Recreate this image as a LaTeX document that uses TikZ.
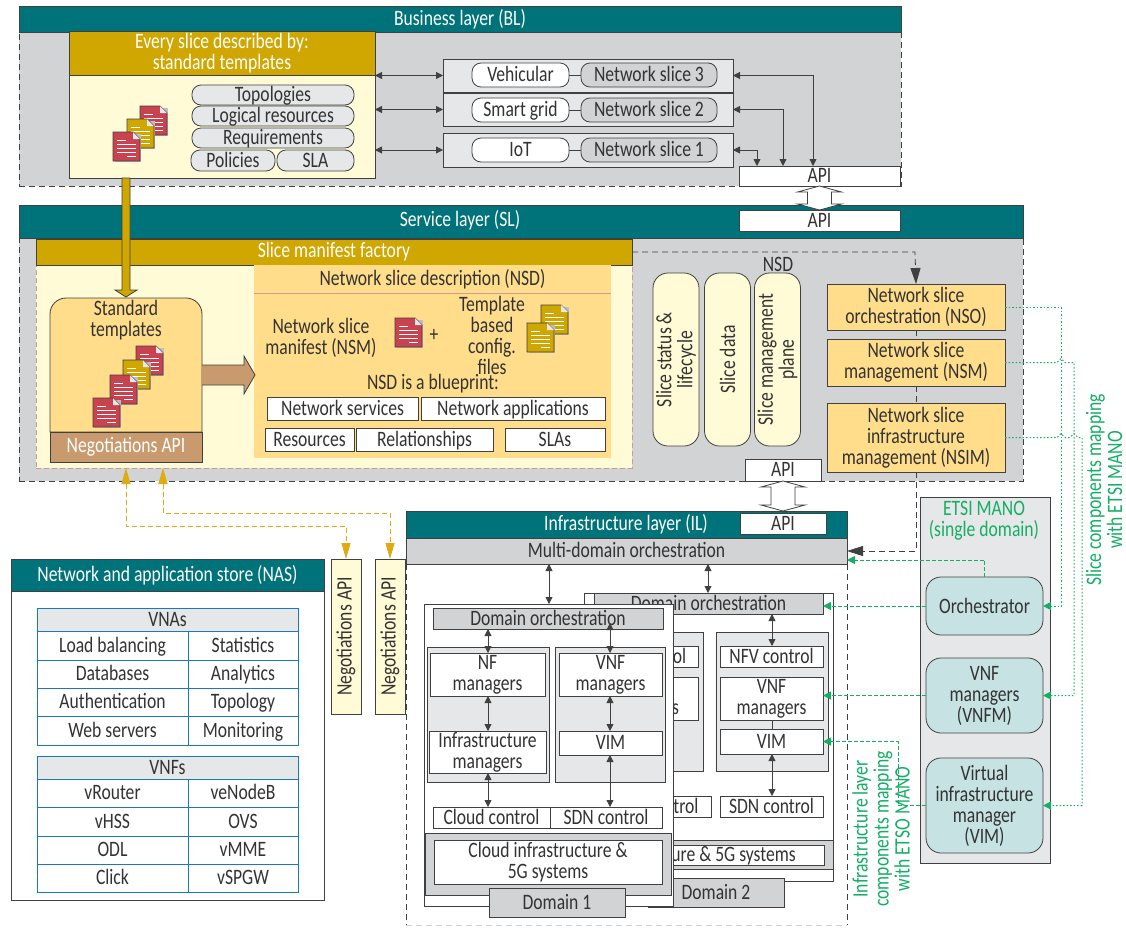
\documentclass[tikz,border=0pt]{standalone}
\usepackage{fontspec}
\setmainfont[FakeStretch=0.8]{Carlito}
\usetikzlibrary{arrows.meta,calc}
\definecolor{teal}{HTML}{00727A}
\definecolor{lgray}{HTML}{D1D3D4}
\definecolor{vgray}{HTML}{E6E7E8}
\definecolor{gold}{HTML}{D0A600}
\definecolor{ltyel}{HTML}{FFFBD6}
\definecolor{orng}{HTML}{FFDD8B}
\definecolor{tann}{HTML}{C99A6E}
\definecolor{aqua}{HTML}{C6E2E2}
\definecolor{grn}{HTML}{14AE66}
\definecolor{dgold}{HTML}{E0AB10}
\definecolor{tblue}{HTML}{1878C0}
\definecolor{pinkd}{HTML}{D09A9A}
\definecolor{ink}{HTML}{333333}
\definecolor{edge}{HTML}{404040}
\definecolor{docred}{HTML}{C8434F}
\tikzset{
  every node/.style={font=\fontsize{22}{21}\selectfont,text=ink,inner sep=0pt,outer sep=0pt,align=center},
  one/.style={text height=16pt,text depth=3pt},
  boxs/.style={draw=edge,line width=0.8pt},
  head/.style={boxs,fill=teal,text=white},
  goldh/.style={boxs,fill=gold,text=white},
  wbox/.style={boxs,fill=white},
  gbox/.style={boxs,fill=lgray},
  pbox/.style={boxs,fill=vgray},
  obox/.style={boxs,fill=orng},
  pill/.style={boxs,one,rounded corners=9pt,fill=vgray},
  wpill/.style={boxs,one,rounded corners=9pt,fill=white},
  gpill/.style={boxs,one,rounded corners=9pt,fill=lgray},
  vpill/.style={boxs,rounded corners=15pt,fill=ltyel,rotate=90,minimum width=173pt,minimum height=46pt},
  mbox/.style={boxs,rounded corners=15pt,fill=aqua},
  cell/.style={one,draw=tblue,line width=0.9pt,fill=white},
  hcell/.style={one,draw=tblue,line width=0.9pt,fill=vgray},
  dbl/.style={edge,line width=0.8pt,{Triangle[length=7pt,width=7pt]}-{Triangle[length=7pt,width=7pt]}},
  bigdash/.style={draw=edge,line width=0.8pt,dash pattern=on 6pt off 4pt},
  bigtip/.style={-{Triangle[length=16pt,width=10pt]}},
  gdash/.style={draw=grn,line width=1pt,dash pattern=on 4pt off 2pt,-{Triangle[length=8pt,width=8pt]}},
  gdot/.style={draw=grn,line width=1pt,dash pattern=on 1.5pt off 2pt,-{Triangle[length=8pt,width=8pt]}},
  golda/.style={draw=dgold,line width=0.9pt,dash pattern=on 5pt off 3pt,{Triangle[length=16pt,width=9pt]}-{Triangle[length=16pt,width=9pt]}},
  outl/.style={draw=edge,line width=0.8pt,fill=white},
  rotl/.style={rotate=90,text=grn},
}
\newcommand{\bx}[7][]{\node[#1,minimum width={(#5-#3)*1pt},minimum height={(#6-#4)*1pt},anchor=north west] (#2) at (#3,#4) {#7};}
\newcommand{\docicon}[3]{%
  \begin{scope}[shift={(#1,#2)}]
    \fill[black!25] (1.5,1.5) rectangle (28,30);
    \draw[draw=edge,line width=0.8pt,fill=#3] (0,0) -- (20,0) -- (27,7) -- (27,29) -- (0,29) -- cycle;
    \fill[vgray] (20,0) -- (27,7) -- (20,7) -- cycle;
    \draw[white,line width=1pt] (4,8) -- (13,8) (4,12) -- (23,12) (4,16) -- (23,16) (4,20) -- (23,20) (14,24) -- (23,24);
  \end{scope}}
\begin{document}
\begin{tikzpicture}[x=1pt,y=-1pt]
\useasboundingbox (0,0) rectangle (1126,927);
\fill[white] (0,0) rectangle (1126,927);
% Business layer
\bx[fill=lgray,bigdash]{blb}{19}{32}{901}{186}{}
\bx[head]{bl}{19}{6}{901}{32}{Business layer (BL)}
\bx[boxs,fill=ltyel]{every}{69}{75}{375}{178}{}
\bx[goldh]{everyh}{69}{31}{375}{75}{Every slice described by:\\standard templates}
\bx[pill]{p1}{192}{85}{354}{105}{Topologies}
\bx[pill]{p2}{192}{106}{354}{126}{Logical resources}
\bx[pill]{p3}{192}{128}{354}{148}{Requirements}
\bx[pill]{p4}{191}{150}{275}{171}{Policies}
\bx[pill]{p5}{277}{150}{354}{171}{SLA}
\docicon{140}{106}{docred}
\docicon{127}{119}{gold}
\docicon{113}{132}{docred}
\bx[pbox]{s3}{443}{59}{733}{92}{}
\bx[pbox]{s2}{443}{93}{733}{126}{}
\bx[pbox]{s1}{443}{133}{733}{167}{}
\bx[wpill]{veh}{472}{63}{569}{87}{Vehicular}
\bx[gpill]{ns3}{581}{63}{717}{87}{Network slice 3}
\bx[wpill]{sg}{472}{98}{569}{122}{Smart grid}
\bx[gpill]{ns2}{581}{98}{717}{122}{Network slice 2}
\bx[wpill]{iot}{472}{138}{569}{162}{IoT}
\bx[gpill]{ns1}{581}{138}{717}{162}{Network slice 1}
\draw[boxs] (veh) -- (ns3);
\draw[boxs] (sg) -- (ns2);
\draw[boxs] (iot) -- (ns1);
\draw[dbl] (s3.west -| every.east) -- (s3.west);
\draw[dbl] (s2.west -| every.east) -- (s2.west);
\draw[dbl] (s1.west -| every.east) -- (s1.west);
\bx[wbox,one]{apit}{739}{166}{900}{186}{API}
\coordinate (xa) at (813,0);
\coordinate (xb) at (783,0);
\coordinate (xc) at (757,0);
\draw[dbl] (s3.east) -- (s3.east -| xa) -- (xa |- apit.north);
\draw[dbl] (s2.east) -- (s2.east -| xb) -- (xb |- apit.north);
\draw[dbl] (s1.east) -- (s1.east -| xc) -- (xc |- apit.north);
% Service layer
\bx[fill=lgray,bigdash]{slb}{19}{238}{1023}{481}{}
\bx[head]{sl}{19}{205}{1023}{238}{}
\node[text=white] at (460,220) (sltxt) {Service layer (SL)};
\bx[wbox,one]{apis}{739}{210}{900}{231}{API}
\draw[outl] (apit.south) -- ++(22,6) -- ++(-10,0) -- ++(0,12) -- ++(10,0) -- ++(-22,6) -- ++(-22,-6) -- ++(10,0) -- ++(0,-12) -- ++(-10,0) -- cycle;
% Slice manifest factory
\bx[fill=ltyel,draw=pinkd,line width=0.9pt,dash pattern=on 5pt off 3pt]{smfb}{36}{265}{632}{468}{}
\bx[goldh]{smf}{36}{239}{632}{265}{Slice manifest factory}
\node[anchor=south] at (778,272) (nsdl) {NSD};
\node[vpill] (v1) at (676,359.5) {Slice status \&\\lifecycle};
\node[vpill] (v2) at (727.5,359.5) {Slice data};
\node[vpill] (v3) at (777.5,359.5) {Slice management\\plane};
\bx[fill=orng]{nsdp}{254}{265}{611}{458}{}
\bx{nsdt}{254}{265}{611}{293}{Network slice description (NSD)}
\draw[draw=pinkd,line width=0.9pt] (nsdt.south west) -- (nsdt.south east);
\node at (321,338) (nsmt) {Network slice\\manifest (NSM)};
\docicon{395}{318}{docred}
\node at (434,335) (plus) {+};
\node at (492,335) (tpl) {Template\\based\\config.\\files};
\docicon{541}{305}{gold}
\docicon{527}{323}{gold}
\node at (433,384) (blue) {NSD is a blueprint:};
\bx[wbox,one]{b1}{267}{397}{418}{420}{Network services}
\bx[wbox,one]{b2}{421}{397}{605}{420}{Network applications}
\bx[wbox,one]{b3}{265}{428}{354}{451}{Resources}
\bx[wbox,one]{b4}{356}{428}{493}{451}{Relationships}
\bx[wbox,one]{b5}{505}{428}{605}{451}{SLAs}
\draw[boxs,fill=orng] (50,432) [rounded corners=16pt] -- (50,298) -- (202,298) [sharp corners] -- (202,432) -- cycle;
\node at (126,320) (stt) {Standard\\templates};
\docicon{136}{346}{docred}
\docicon{123}{360}{gold}
\docicon{110}{375}{docred}
\docicon{93}{398}{docred}
\bx[boxs,fill=tann,text=white]{neg}{50}{432}{202}{462}{Negotiations API}
\draw[draw=edge,line width=0.8pt,fill=tann] (neg.north east |- 0,375) +(0,-10) -- +(42,-10) -- +(42,-19) -- +(53,0) -- +(42,19) -- +(42,10) -- +(0,10);
\coordinate (xg) at (126,0);
\draw[draw=edge,line width=0.8pt,fill=gold] (every.south -| xg) +(-4,0) -- +(4,0) -- +(4,112) -- +(11,112) -- +(0,119) -- +(-11,112) -- +(-4,112) -- cycle;
% NSO group
\coordinate (xn) at (915,0);
\bx[obox]{nso}{827}{284}{1005}{330}{Network slice\\orchestration (NSO)}
\bx[obox]{nsm}{827}{339}{1005}{386}{Network slice\\management (NSM)}
\bx[obox]{nsim}{827}{403}{1005}{472}{Network slice\\infrastructure\\management (NSIM)}
\draw[bigdash,bigtip] (smf.east) -- (smf.east -| xn) -- (nso.north);
\draw[bigdash] (nso.south) -- (nsm.north);
\draw[bigdash] (nsm.south) -- (nsim.north);
\bx[wbox,one]{apis2}{745}{459}{821}{481}{API}
% Infrastructure layer
\bx[head]{il}{406}{511}{847}{538}{}
\node[text=white] at (626,524) (iltxt) {Infrastructure layer (IL)};
\bx[wbox,one]{apii}{740}{513}{826}{534}{API}
\draw[outl] (apis2.south) -- ++(22,6) -- ++(-10,0) -- ++(0,18) -- ++(10,0) -- ++(-22,6) -- ++(-22,-6) -- ++(10,0) -- ++(0,-18) -- ++(-10,0) -- cycle;
\bx[gbox,one]{mdo}{406}{538}{847}{564}{Multi-domain orchestration}
\draw[bigdash] (mdo.south west) -- ++(0,361);
\draw[bigdash] (mdo.south east) -- ++(0,361);
\draw[draw=lgray,line width=0.8pt,dash pattern=on 6pt off 4pt] (mdo.south west) ++(0,361) -- ++(441,0);
\draw[bigdash,bigtip] (nsim.south) -- (nsim.south |- mdo.east) -- (mdo.east);
% Domain 2 (behind)
\bx[wbox]{d2}{584}{593}{833}{881}{}
\bx[gbox,one]{d2o}{594}{593}{823}{614}{Domain orchestration}
\bx[pbox]{d2l}{590}{632}{703}{771}{}
\bx[pbox]{d2r}{716}{632}{828}{771}{}
\bx[wbox,one]{d2a}{590}{646}{698}{667}{NFV control}
\bx[wbox]{d2b}{590}{677}{698}{720}{VNF\\managers}
\bx[wbox,one]{d2c}{720}{646}{823}{667}{NFV control}
\bx[wbox]{d2d}{720}{677}{823}{720}{VNF\\managers}
\bx[wbox,one]{d2e}{720}{729}{823}{754}{VIM}
\bx[wbox,one]{d2f}{590}{796}{711}{817}{Cloud control}
\bx[wbox,one]{d2g}{720}{796}{823}{817}{SDN control}
\bx[gbox]{d2band}{600}{840}{833}{869}{}
\bx[wbox,one]{d2inf}{600}{845}{824}{865}{\hspace*{-76pt}Cloud infrastructure \& 5G systems}
\bx[gbox,one]{d2tab}{648}{878}{784}{907}{Domain 2}
\coordinate (xd) at (708,0);
\coordinate (xe) at (772,0);
\draw[dbl] (xd |- mdo.south) -- (xd |- d2.north);
\draw[dbl] (d2c.north -| xe) -- (d2o.south -| xe);
\draw[boxs] (d2d.south -| xe) -- (d2e.north -| xe);
\draw[dbl] (d2e.south -| xe) -- (d2g.north -| xe);
% Domain 1 (front)
\bx[wbox]{d1}{424}{604}{673}{906}{}
\bx[gbox,one]{d1o}{433}{608}{663}{629}{Domain orchestration}
\bx[pbox]{d1l}{427}{647}{549}{782}{}
\bx[pbox]{d1r}{555}{647}{665}{782}{}
\bx[wbox]{nf}{430}{653}{545}{696}{NF\\managers}
\bx[wbox]{infm}{429}{731}{546}{773}{Infrastructure\\managers}
\bx[wbox]{vnf}{559}{653}{662}{696}{VNF\\managers}
\bx[wbox,one]{vim}{559}{731}{662}{755}{VIM}
\bx[wbox,one]{cc}{433}{807}{550}{828}{Cloud control}
\bx[wbox,one]{sc}{550}{807}{662}{828}{SDN control}
\bx[gbox]{d1band}{425}{833}{671}{895}{}
\bx[wbox]{d1inf}{434}{840}{662}{884}{Cloud infrastructure \&\\5G systems}
\bx[gbox,one]{d1tab}{489}{888}{625}{917}{Domain 1}
\coordinate (xf) at (549,0);
\coordinate (xh) at (488,0);
\coordinate (xi) at (610,0);
\draw[dbl] (xf |- mdo.south) -- (xf |- d1.north);
\draw[dbl] (xh |- d1o.south) -- (xh |- nf.north);
\draw[dbl] (xh |- nf.south) -- (xh |- infm.north);
\draw[dbl] (xh |- infm.south) -- (xh |- cc.north);
\draw[dbl] ($(xi |- d1o.south)+(0,-6)$) -- (xi |- vnf.north);
\draw[dbl] (xi |- vnf.south) -- (xi |- vim.north);
\draw[dbl] (xi |- vim.south) -- (xi |- sc.north);
% ETSI MANO
\bx[pbox]{etsi}{920}{497}{1050}{863}{}
\node[text=grn] at (984,521) (etsit) {ETSI MANO\\(single domain)};
\bx[mbox]{orch}{926}{577}{1043}{635}{Orchestrator}
\bx[mbox]{vnfm}{926}{658}{1043}{733}{VNF\\managers\\(VNFM)}
\bx[mbox]{vimm}{926}{758}{1043}{853}{Virtual\\infrastructure\\manager\\(VIM)}
\coordinate (yo) at (0,560);
\coordinate (xv) at (898,0);
\draw[gdash] (orch.north) -- (orch.north |- yo) -- (mdo.south east |- yo);
\draw[gdash] (orch.west) -- (d2o.east |- orch.west);
\draw[gdash] (vnfm.west) -- (d2d.east |- vnfm.west);
\draw[gdash] (vimm.west) -- (vimm.west -| xv) -- (xv |- d2e.east) -- (d2e.east);
\coordinate (x1) at (1061,0);
\coordinate (x2) at (1074,0);
\coordinate (x3) at (1082,0);
\draw[gdot] (nso.east) -- (nso.east -| x1) -- (x1 |- orch.east) -- (orch.east);
\draw[gdot] (nsm.east) -- ++(52,0) -- ++(4,-4) -- ++(4,4) -- (nsm.east -| x2) -- (x2 |- vnfm.east) -- (vnfm.east);
\draw[gdot] (nsim.east) -- ++(52,0) -- ++(4,-4) -- ++(4,4) -- ++(5,0) -- ++(4,-4) -- ++(4,4) -- (nsim.east -| x3) -- (x3 |- vimm.east) -- (vimm.east);
\node[rotl] at (1104,490) (slm) {Slice components mapping\\with ETSI MANO};
\node[rotl] at (881,829) (ilm) {Infrastructure layer\\components mapping\\with ETSO MANO};
% NAS
\bx[boxs,fill=white]{nasb}{11}{591}{324}{900}{}
\bx[head]{nas}{11}{559}{324}{591}{Network and application store (NAS)}
\bx[hcell]{vna}{37}{608}{298}{631}{VNAs}
\bx[cell]{a1}{37}{631}{188}{660}{Load balancing}
\bx[cell]{a2}{188}{631}{298}{660}{Statistics}
\bx[cell]{a3}{37}{660}{188}{688}{Databases}
\bx[cell]{a4}{188}{660}{298}{688}{Analytics}
\bx[cell]{a5}{37}{688}{188}{716}{Authentication}
\bx[cell]{a6}{188}{688}{298}{716}{Topology}
\bx[cell]{a7}{37}{716}{188}{745}{Web servers}
\bx[cell]{a8}{188}{716}{298}{745}{Monitoring}
\bx[hcell]{vnfh}{37}{756}{298}{779}{VNFs}
\bx[cell]{c1}{37}{779}{188}{807}{vRouter}
\bx[cell]{c2}{188}{779}{298}{807}{veNodeB}
\bx[cell]{c3}{37}{807}{188}{836}{vHSS}
\bx[cell]{c4}{188}{807}{298}{836}{OVS}
\bx[cell]{c5}{37}{836}{188}{864}{ODL}
\bx[cell]{c6}{188}{836}{298}{864}{vMME}
\bx[cell]{c7}{37}{864}{188}{892}{Click}
\bx[cell]{c8}{188}{864}{298}{892}{vSPGW}
% Negotiations API columns
\node[boxs,fill=ltyel,rotate=90,minimum width=155pt,minimum height=30pt] (n1) at (346,636.5) {Negotiations API};
\node[boxs,fill=ltyel,rotate=90,minimum width=155pt,minimum height=30pt] (n2) at (390,636.5) {Negotiations API};
\coordinate (ga) at (126,468);
\coordinate (gb) at (163,468);
\coordinate (ya) at (0,526);
\coordinate (yb) at (0,513);
\draw[golda] (ga) -- (ga |- ya) -- (n1.east |- ya) -- (n1.east);
\draw[golda] (gb) -- (gb |- yb) -- (n2.east |- yb) -- (n2.east);
\end{tikzpicture}
\end{document}
